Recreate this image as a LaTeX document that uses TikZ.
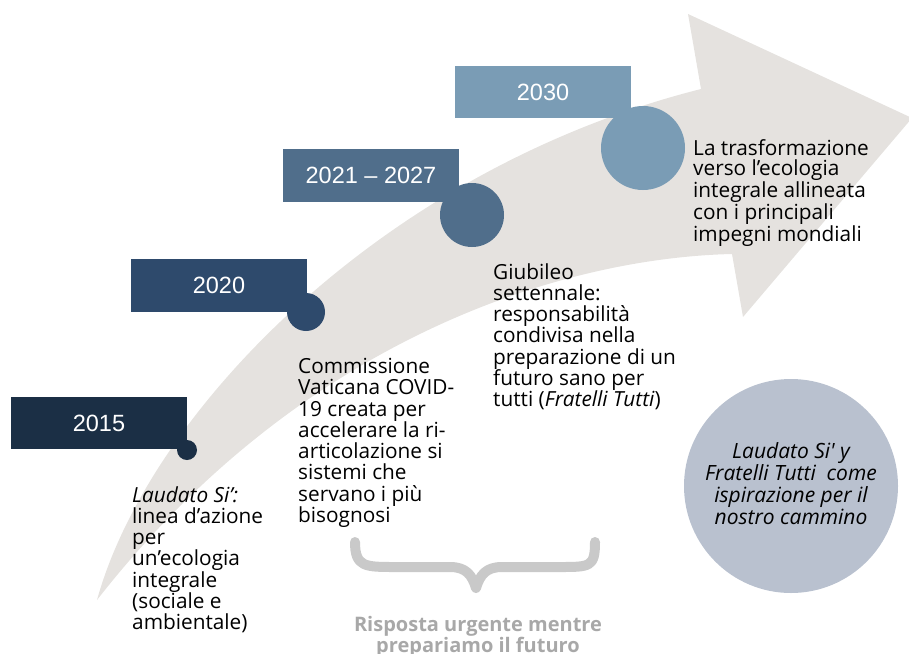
\documentclass[tikz,border=0pt]{standalone}
\usepackage{fontspec}
\setmainfont{Open Sans}
\newfontfamily\yearfont{Liberation Sans}
\definecolor{arrowgray}{HTML}{E5E2DF}
\definecolor{navyA}{HTML}{1B2F45}
\definecolor{navyB}{HTML}{2E4A6C}
\definecolor{navyC}{HTML}{506E8B}
\definecolor{navyD}{HTML}{7A9CB5}
\definecolor{mistblue}{HTML}{B9C1CF}
\definecolor{bracegray}{HTML}{C9C9C9}
\definecolor{notegray}{HTML}{A8A8A8}

\begin{document}
\begin{tikzpicture}[x=1pt,y=-1pt,line cap=round,line join=round]
    \def\boxw{176}
    \def\boxh{52.5}
    \tikzset{
        yearbox/.style={fill=#1,minimum width=\boxw pt,minimum height=\boxh pt,inner sep=0,
            text=white,font=\yearfont\fontsize{23.5}{26}\selectfont},
        yeardot/.style={circle,fill=#1,inner sep=0},
        milestone/.style={anchor=north west,inner sep=0,align=left,
            font=\fontsize{20.8}{21.3}\selectfont},
    }
    \useasboundingbox (0,0) rectangle (909,653);
    \clip (0,0) rectangle (909,653);
    % arrow
    \fill[arrowgray] (97,600) .. controls (148,415) and (380,170) .. (701,89)
        -- (688,14) -- (912,118) -- (743,317) -- (732,254)
        .. controls (560,258) and (300,340) .. (97,600) -- cycle;
    % years
    \node[yearbox=navyA] (y2015) at (99,423) {2015};
    \node[yeardot=navyA,minimum size=20pt] (d2015) at (187,450) {};
    \node[yearbox=navyB] (y2020) at (219,285.5) {2020};
    \node[yeardot=navyB,minimum size=38pt] (d2020) at (306,312) {};
    \node[yearbox=navyC] (y2021) at (371,175.5) {2021 – 2027};
    \node[yeardot=navyC,minimum size=64pt] (d2021) at (472,215) {};
    \node[yearbox=navyD] (y2030) at (543,92) {2030};
    \node[yeardot=navyD,minimum size=84pt] (d2030) at (643,148) {};
    % milestones
    \node[milestone] (t2015) at (132,486) {\textit{Laudato Si’:}\\linea d’azione\\per\\un’ecologia\\integrale\\(sociale e\\ambientale)};
    \node[milestone] (t2020) at (298,358) {Commissione\\Vaticana COVID-\\19 creata per\\accelerare la ri-\\articolazione si\\sistemi che\\servano i più\\bisognosi};
    \node[milestone] (t2021) at (493,263) {Giubileo\\settennale:\\responsabilità\\condivisa nella\\preparazione di un\\futuro sano per\\tutti (\textit{Fratelli Tutti})};
    \node[milestone,font=\fontsize{20.8}{20.7}\selectfont] (t2030) at (693,139) {La trasformazione\\verso l’ecologia\\integrale allineata\\con i principali\\impegni mondiali};
    % inspiration
    \node[yeardot=mistblue,minimum size=214pt] (circ) at (791,486) {};
    \node[align=center,inner sep=0,font=\itshape\fontsize{21}{22}\selectfont] (insp) at (791,484)
        {Laudato Si\textquotesingle{} y\\Fratelli Tutti\ \ come\\ispirazione per il\\nostro cammino};
    % brace
    \draw[bracegray,line width=10pt] (355,542) .. controls (355,567) and (365,567) .. (395,567)
        -- (450,567) .. controls (466,567) and (472,575) .. (476,588)
        .. controls (480,575) and (486,567) .. (502,567) -- (560,567)
        .. controls (590,567) and (595,567) .. (595,542);
    \node[anchor=north,align=center,inner sep=0,text=notegray,
        font=\bfseries\fontsize{20}{20}\selectfont] (urgent) at (478,616)
        {Risposta urgente mentre\\prepariamo il futuro};
\end{tikzpicture}
\end{document}
